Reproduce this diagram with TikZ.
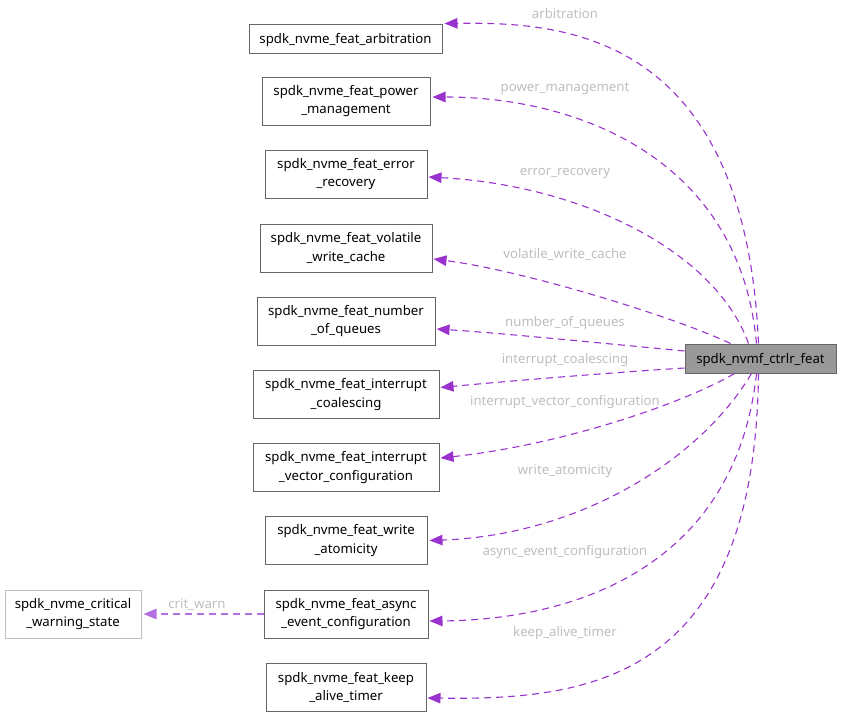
\documentclass[tikz,border=0pt]{standalone}
\usepackage{fontspec}
\setmainfont{Noto Sans}
\usetikzlibrary{arrows.meta,calc}
\definecolor{edgec}{HTML}{9A32CD}
\definecolor{edgel}{HTML}{B36FE0}
\definecolor{boxc}{HTML}{666666}
\definecolor{labc}{HTML}{BEBEBE}
\definecolor{critc}{HTML}{BFBFBF}
\definecolor{mainfill}{HTML}{999999}
\begin{document}
\begin{tikzpicture}[x=1pt,y=-1pt,
 box/.style={draw=boxc, line width=1pt, fill=white, inner sep=0pt, align=center, font=\fontsize{13.2}{18.5}\selectfont, execute at begin node={\rule{0pt}{12.6pt}}},
 one/.style={minimum height=29pt},
 two/.style={minimum height=48pt},
 rel/.style={draw=edgec, line width=1.1pt, dash pattern=on 7pt off 5pt, -{Triangle[length=13pt,width=10.5pt]}},
 lab/.style={text=labc, font=\fontsize{13.2}{16}\selectfont, inner sep=0pt, yshift=-1pt}
]
\path[use as bounding box] (0,0) rectangle (842,718);

\node[box,one,minimum width=193pt] (arb) at (345.5,38.5) {spdk\_nvme\_feat\_arbitration};
\node[box,two,minimum width=168pt] (pow) at (346,101) {spdk\_nvme\_feat\_power\\\_management};
\node[box,two,minimum width=162pt] (err) at (346,174) {spdk\_nvme\_feat\_error\\\_recovery};
\node[box,two,minimum width=172pt] (vol) at (346,248) {spdk\_nvme\_feat\_volatile\\\_write\_cache};
\node[box,two,minimum width=178pt] (noq) at (346,321) {spdk\_nvme\_feat\_number\\\_of\_queues};
\node[box,two,minimum width=186pt] (ico) at (346,394.5) {spdk\_nvme\_feat\_interrupt\\\_coalescing};
\node[box,two,minimum width=186pt] (ivc) at (346,467.5) {spdk\_nvme\_feat\_interrupt\\\_vector\_configuration};
\node[box,two,minimum width=162pt] (wat) at (346,540.5) {spdk\_nvme\_feat\_write\\\_atomicity};
\node[box,two,minimum width=164pt] (aec) at (346,614) {spdk\_nvme\_feat\_async\\\_event\_configuration};
\node[box,two,minimum width=160pt] (kat) at (346,687.5) {spdk\_nvme\_feat\_keep\\\_alive\_timer};
\node[box,two,draw=critc,minimum width=136pt] (cws) at (73,614) {spdk\_nvme\_critical\\\_warning\_state};
\node[box,one,fill=mainfill,minimum width=151pt] (main) at (760.5,358.5) {spdk\_nvmf\_ctrlr\_feat};

\draw[rel] ($(main.north west)+(74,0)$) .. controls (745,30) and (560,22) .. ($(arb.north east)+(2,0)$);
\draw[rel] ($(main.north west)+(72,0)$) .. controls (740,160) and (580,97) .. ($(pow.east)+(2,-4)$);
\draw[rel] ($(main.north west)+(64,0)$) .. controls (715,250) and (580,185) .. ($(err.east)+(1,3)$);
\draw[rel] ($(main.north west)+(46,0)$) .. controls (670,315) and (520,270) .. ($(vol.east)+(1,11)$);
\draw[rel] ($(main.west)+(0,-7.5)$) .. controls (600,343) and (500,333) .. ($(noq.east)+(1,8)$);
\draw[rel] ($(main.west)+(0,9.5)$) .. controls (620,372) and (520,380) .. ($(ico.east)+(1,-7)$);
\draw[rel] ($(main.south west)+(50,0)$) .. controls (680,405) and (560,445) .. ($(ivc.east)+(1,-9.5)$);
\draw[rel] ($(main.south west)+(67,0)$) .. controls (700,460) and (580,535) .. ($(wat.east)+(2,0)$);
\draw[rel] ($(main.south west)+(72,0)$) .. controls (735,570) and (570,620) .. ($(aec.east)+(1,7)$);
\draw[rel] ($(main.south west)+(74,0)$) .. controls (755,680) and (590,700) .. ($(kat.east)+(1,10.5)$);
\draw[rel,draw=edgel] (aec.west) -- ($(cws.east)+(2,0)$);

\node[lab] (l1) at (565,13) {arbitration};
\node[lab] (l2) at (565,88) {power\_management};
\node[lab] (l3) at (565,172) {error\_recovery};
\node[lab] (l4) at (565,253) {volatile\_write\_cache};
\node[lab] (l5) at (565,322) {number\_of\_queues};
\node[lab] (l6) at (565,359) {interrupt\_coalescing};
\node[lab] (l7) at (565,401) {interrupt\_vector\_configuration};
\node[lab] (l8) at (565,470) {write\_atomicity};
\node[lab] (l9) at (565,551) {async\_event\_configuration};
\node[lab] (l10) at (565,632) {keep\_alive\_timer};
\node[lab] (l11) at (197,604) {crit\_warn};
\end{tikzpicture}
\end{document}
